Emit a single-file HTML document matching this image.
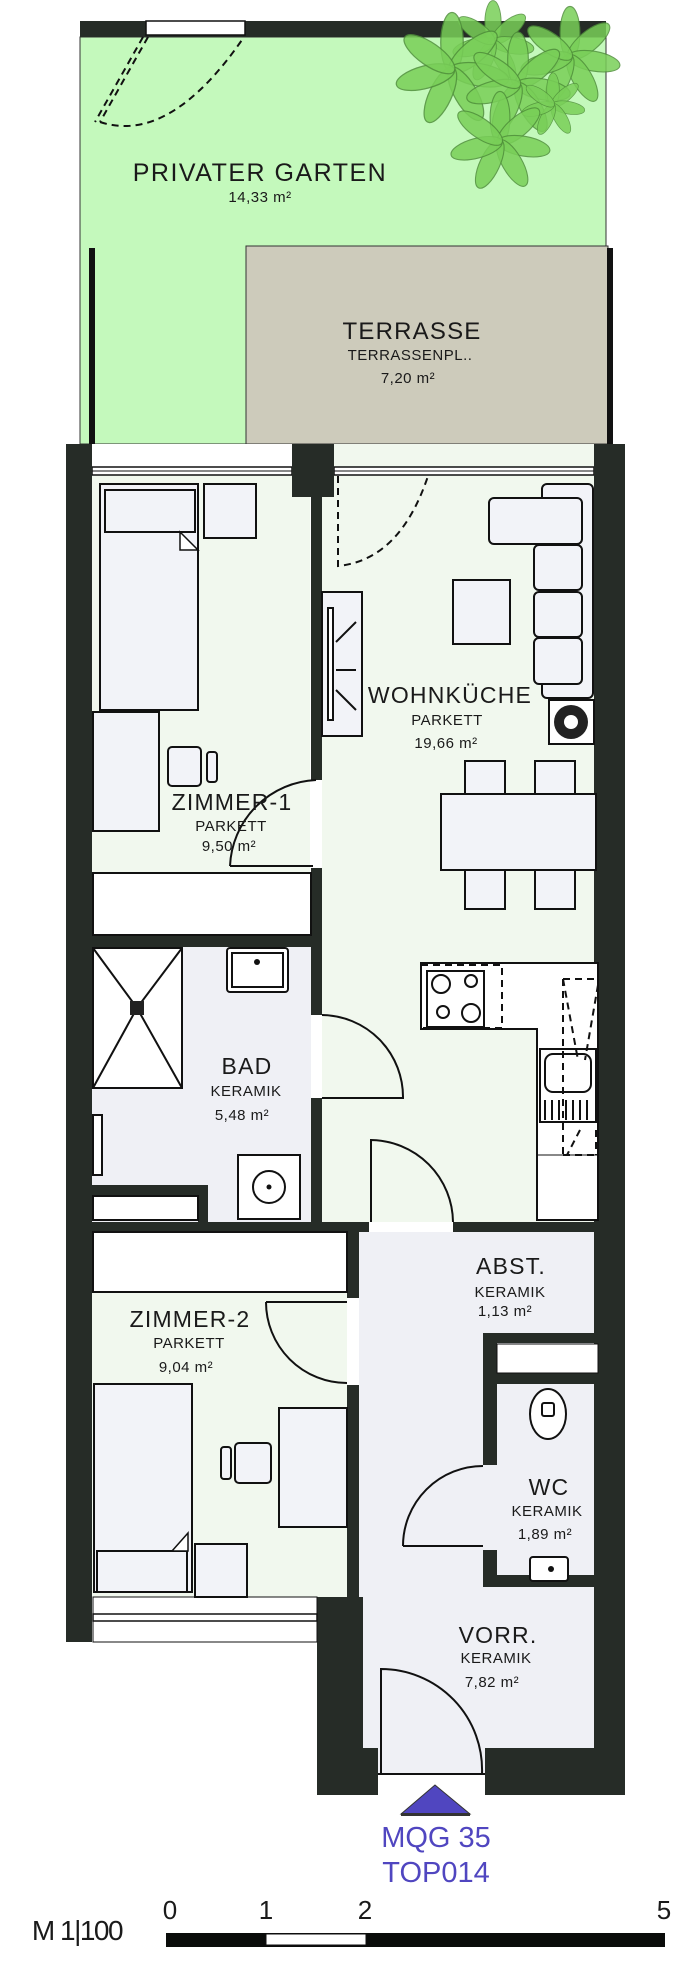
<!DOCTYPE html>
<html><head><meta charset="utf-8"><style>
html,body{margin:0;padding:0;background:#fff}
svg{display:block}
text{font-family:"Liberation Sans",sans-serif;fill:#1a1a1a;text-anchor:middle}
.n{font-size:23px;letter-spacing:1.2px}
.s{font-size:15px;letter-spacing:.5px}
.f{fill:#f2f3f8;stroke:#111;stroke-width:2}
.w{fill:#fff;stroke:#111;stroke-width:2}
.l{fill:none;stroke:#111;stroke-width:2}
.d{fill:none;stroke:#111;stroke-width:2;stroke-dasharray:7 5}
.lf{fill:#79cf58;stroke:#4f8f3a;stroke-width:1;opacity:.85}
</style></head><body>
<svg width="700" height="1976" viewBox="0 0 700 1976" xmlns="http://www.w3.org/2000/svg">
<defs>
<g id="cl">
<ellipse class="lf" cx="0" cy="-22" rx="9" ry="24"/>
<ellipse class="lf" cx="0" cy="-22" rx="9" ry="24" transform="rotate(50)"/>
<ellipse class="lf" cx="0" cy="-22" rx="9" ry="24" transform="rotate(100)"/>
<ellipse class="lf" cx="0" cy="-22" rx="9" ry="24" transform="rotate(150)"/>
<ellipse class="lf" cx="0" cy="-22" rx="9" ry="24" transform="rotate(205)"/>
<ellipse class="lf" cx="0" cy="-22" rx="9" ry="24" transform="rotate(255)"/>
<ellipse class="lf" cx="0" cy="-22" rx="9" ry="24" transform="rotate(305)"/>
</g>
</defs>
<!-- garden -->
<rect x="80" y="37" width="526" height="407" fill="#c4f9bc" stroke="#333" stroke-width="1"/>
<rect x="246" y="246" width="362" height="198" fill="#cdcbbb" stroke="#333" stroke-width="1"/>
<rect x="80" y="21" width="526" height="16" fill="#262c27"/>
<rect x="146" y="21" width="99" height="14" fill="#fff" stroke="#111" stroke-width="1.5"/>
<rect x="89" y="248" width="6" height="196" fill="#111"/>
<rect x="607" y="248" width="6" height="196" fill="#111"/>
<path class="d" d="M148 37 L100 122 M143 37 L95 122 M100 122 Q170 145 244 37"/>
<g><use href="#cl" transform="translate(493,42) scale(.9)"/><use href="#cl" transform="translate(570,57) scale(1.1)"/><use href="#cl" transform="translate(452,70) scale(1.25)"/><use href="#cl" transform="translate(518,85) scale(1.15)"/><use href="#cl" transform="translate(553,105) scale(.7)"/><use href="#cl" transform="translate(500,142) scale(1.1)"/></g>
<text x="260" y="181" style="font-size:25px;letter-spacing:1.5px">PRIVATER GARTEN</text>
<text x="260" y="202" class="s">14,33 m²</text>
<text x="412" y="339" class="n" style="font-size:24px">TERRASSE</text>
<text x="410" y="360" class="s">TERRASSENPL..</text>
<text x="408" y="383" class="s">7,20 m²</text>
<!-- floors -->
<rect x="92" y="470" width="218" height="477" fill="#f1f8ee"/>
<rect x="322" y="464" width="276" height="758" fill="#f1f8ee"/>
<rect x="92" y="947" width="219" height="275" fill="#eff0f5"/>
<rect x="92" y="1232" width="255" height="365" fill="#f1f8ee"/>
<rect x="359" y="1232" width="239" height="516" fill="#eff0f5"/>
<rect x="363" y="1748" width="122" height="26" fill="#eff0f5"/>
<!-- top windows -->
<rect x="92" y="444" width="200" height="26" fill="#fff"/>
<rect x="334" y="444" width="260" height="26" fill="#f1f8ee"/>
<rect x="92" y="467" width="200" height="8" fill="#fff" stroke="#111" stroke-width="1.5"/>
<rect x="334" y="467" width="260" height="8" fill="#fff" stroke="#111" stroke-width="1.5"/>
<line x1="92" y1="471" x2="292" y2="471" stroke="#111"/><line x1="334" y1="471" x2="594" y2="471" stroke="#111"/>
<!-- walls -->
<g fill="#262c27">
<rect x="66" y="444" width="26" height="1198"/>
<rect x="594" y="444" width="31" height="1351"/>
<rect x="292" y="444" width="42" height="53"/>
<rect x="311" y="497" width="11" height="283"/>
<rect x="311" y="868" width="11" height="147"/>
<rect x="311" y="1098" width="11" height="124"/>
<rect x="92" y="935" width="219" height="12"/>
<rect x="92" y="1222" width="277" height="10"/>
<rect x="453" y="1222" width="145" height="10"/>
<rect x="92" y="1185" width="116" height="11"/><rect x="198" y="1185" width="10" height="37"/>
<rect x="347" y="1232" width="12" height="66"/>
<rect x="347" y="1385" width="12" height="212"/>
<rect x="483" y="1333" width="115" height="10"/>
<rect x="483" y="1373" width="115" height="11"/>
<rect x="483" y="1333" width="14" height="132"/>
<rect x="483" y="1550" width="14" height="37"/>
<rect x="483" y="1575" width="115" height="12"/>
<rect x="317" y="1597" width="46" height="198"/>
<rect x="317" y="1748" width="61" height="47"/>
<rect x="485" y="1748" width="140" height="47"/>
</g>
<rect x="497" y="1344" width="101" height="29" fill="#fff" stroke="#111"/>
<rect x="93" y="1597" width="224" height="45" fill="#fff" stroke="#111" stroke-width="1"/>
<rect x="93" y="1614" width="224" height="7" fill="#fff" stroke="#111" stroke-width="1.5"/>
<!-- doors -->
<path class="l" d="M230 866 L313 866 M230 866 A90 90 0 0 1 316 780"/>
<path class="l" d="M322 1098 L403 1098 A82 82 0 0 0 322 1015"/>
<path class="l" d="M371 1222 L371 1140 A83 83 0 0 1 453 1222"/>
<path class="l" d="M266 1302 L347 1302 M266 1302 A81 81 0 0 0 347 1383"/>
<path class="l" d="M403 1546 L483 1546 M403 1546 A80 80 0 0 1 483 1466"/>
<path class="l" d="M381 1774 L381 1669 A101 101 0 0 1 482 1774 M378 1774 L485 1774"/>
<path class="d" d="M338 476 L338 566 Q400 560 428 476"/>
<!-- Z1 furniture -->
<rect class="w" x="93" y="873" width="218" height="62"/>
<rect class="f" x="100" y="484" width="98" height="226"/>
<rect class="f" x="105" y="490" width="90" height="42"/>
<path d="M180 532 L198 550 L180 550 Z" fill="#fff" stroke="#111" stroke-width="1.5"/>
<rect class="f" x="204" y="484" width="52" height="54"/>
<rect class="f" x="93" y="712" width="66" height="119"/>
<rect class="f" x="168" y="747" width="33" height="39" rx="4"/><rect class="f" x="207" y="752" width="10" height="30" rx="3"/>
<!-- Wohn -->
<rect class="f" x="542" y="484" width="51" height="214" rx="5"/>
<rect class="f" x="489" y="498" width="93" height="46" rx="5"/>
<rect class="f" x="534" y="545" width="48" height="45" rx="5"/>
<rect class="f" x="534" y="592" width="48" height="45" rx="5"/>
<rect class="f" x="534" y="638" width="48" height="46" rx="5"/>
<rect class="f" x="453" y="580" width="57" height="64"/>
<rect class="f" x="322" y="592" width="40" height="144"/>
<rect class="w" x="328" y="608" width="5" height="112"/>
<path class="l" d="M336 642 L356 622 M336 670 L356 670 M336 690 L356 710"/>
<rect class="w" x="549" y="700" width="45" height="44"/>
<circle cx="571" cy="722" r="17" fill="#222"/><circle cx="571" cy="722" r="7" fill="#fff"/>
<rect class="f" x="465" y="761" width="40" height="33"/><rect class="f" x="535" y="761" width="40" height="33"/>
<rect class="f" x="465" y="870" width="40" height="39"/><rect class="f" x="535" y="870" width="40" height="39"/>
<rect class="f" x="441" y="794" width="155" height="76"/>
<path d="M421 963 L598 963 L598 1220 L537 1220 L537 1029 L421 1029 Z" fill="#fff" stroke="#111" stroke-width="2"/>
<rect class="w" x="427" y="971" width="57" height="56"/>
<rect class="d" x="421" y="965" width="81" height="63"/>
<circle class="l" cx="441" cy="984" r="9"/><circle class="l" cx="471" cy="981" r="6"/><circle class="l" cx="443" cy="1012" r="6"/><circle class="l" cx="471" cy="1013" r="9"/>
<rect class="w" x="540" y="1049" width="56" height="73"/>
<rect class="l" x="545" y="1054" width="46" height="38" rx="8"/>
<path class="l" d="M545 1100 V1120 M552 1100 V1120 M559 1100 V1120 M566 1100 V1120 M573 1100 V1120 M580 1100 V1120 M587 1100 V1120"/>
<path class="d" d="M563 979 L596 979 M563 979 V1155 M563 979 L578 1060 M598 985 L585 1060 M580 1130 L567 1155 M596 1130 V1155 M563 1155 H598"/>
<line x1="537" y1="1155" x2="598" y2="1155" stroke="#111"/>
<!-- Bad -->
<rect class="w" x="93" y="948" width="89" height="140"/>
<path class="l" d="M93 948 L137 1008 L182 948 M93 1088 L137 1008 L182 1088"/>
<rect x="130" y="1001" width="14" height="14" fill="#222"/>
<rect class="w" x="227" y="948" width="61" height="44" rx="3"/><rect class="l" x="232" y="953" width="51" height="34"/>
<circle cx="257" cy="962" r="3" fill="#111"/>
<rect class="w" x="238" y="1155" width="62" height="64"/><circle class="l" cx="269" cy="1187" r="16"/><circle cx="269" cy="1187" r="2.5" fill="#111"/>
<rect class="w" x="93" y="1115" width="9" height="60"/>
<rect class="w" x="93" y="1196" width="105" height="24"/>
<!-- Z2 -->
<rect class="w" x="93" y="1232" width="254" height="60"/>
<rect class="f" x="94" y="1384" width="98" height="208"/>
<rect class="f" x="97" y="1551" width="90" height="41"/>
<path d="M172 1551 L188 1533 L188 1551 Z" fill="#fff" stroke="#111" stroke-width="1.5"/>
<rect class="f" x="195" y="1544" width="52" height="53"/>
<rect class="f" x="279" y="1408" width="68" height="119"/>
<rect class="f" x="235" y="1443" width="36" height="40" rx="4"/><rect class="f" x="221" y="1447" width="10" height="32" rx="3"/>
<!-- WC -->
<ellipse class="w" cx="548" cy="1414" rx="18" ry="25"/><rect class="l" x="542" y="1403" width="12" height="13" rx="2"/>
<rect class="w" x="530" y="1557" width="38" height="24" rx="3"/><circle cx="551" cy="1569" r="3" fill="#111"/>
<!-- labels -->
<text x="450" y="703" class="n">WOHNKÜCHE</text>
<text x="447" y="725" class="s">PARKETT</text>
<text x="446" y="748" class="s">19,66 m²</text>
<text x="232" y="810" class="n">ZIMMER-1</text>
<text x="231" y="831" class="s">PARKETT</text>
<text x="229" y="851" class="s">9,50 m²</text>
<text x="247" y="1074" class="n">BAD</text>
<text x="246" y="1096" class="s">KERAMIK</text>
<text x="242" y="1120" class="s">5,48 m²</text>
<text x="511" y="1274" class="n">ABST.</text>
<text x="510" y="1297" class="s">KERAMIK</text>
<text x="505" y="1316" class="s">1,13 m²</text>
<text x="190" y="1327" class="n">ZIMMER-2</text>
<text x="189" y="1348" class="s">PARKETT</text>
<text x="186" y="1372" class="s">9,04 m²</text>
<text x="549" y="1495" class="n">WC</text>
<text x="547" y="1516" class="s">KERAMIK</text>
<text x="545" y="1539" class="s">1,89 m²</text>
<text x="498" y="1643" class="n">VORR.</text>
<text x="496" y="1663" class="s">KERAMIK</text>
<text x="492" y="1687" class="s">7,82 m²</text>
<!-- entry -->
<path d="M435 1785 L401 1814 L470 1814 Z" fill="#5046c0" stroke="#333" stroke-width="1"/>
<rect x="401" y="1813" width="69" height="3" fill="#333"/>
<text x="436" y="1847" style="font-size:29px;fill:#5046c0">MQG 35</text>
<text x="436" y="1882" style="font-size:29px;fill:#5046c0">TOP014</text>
<!-- scale -->
<text x="77" y="1940" style="font-size:28px;letter-spacing:-1.5px">M 1|100</text>
<text x="170" y="1919" style="font-size:26px">0</text>
<text x="266" y="1919" style="font-size:26px">1</text>
<text x="365" y="1919" style="font-size:26px">2</text>
<text x="664" y="1919" style="font-size:26px">5</text>
<rect x="166" y="1933" width="499" height="14" fill="#0a0c0a"/>
<rect x="266" y="1934" width="100" height="11" fill="#fff" stroke="#111" stroke-width="1"/>
</svg>
</body></html>
